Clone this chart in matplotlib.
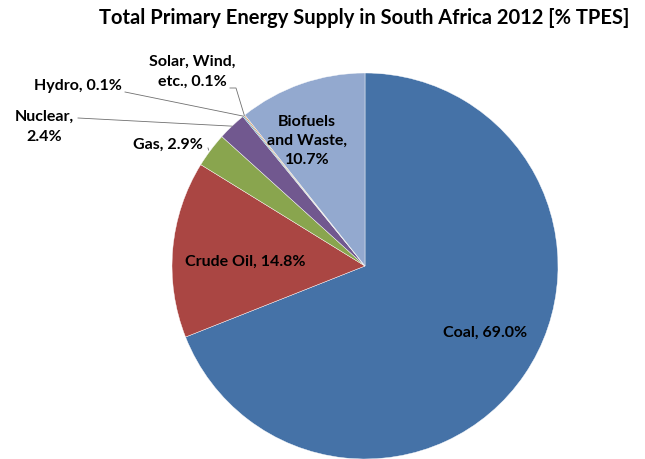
import numpy as np
import matplotlib
matplotlib.use('Agg')
import matplotlib.pyplot as plt

fuentes = ['Coal', 'Crude Oil', 'Gas', 'Nuclear', 'Hydro', 'Solar, Wind, etc.', 'Biofuels and Waste']
valores = [69.0, 14.8, 2.9, 2.4, 0.1, 0.1, 10.7]
etiquetas = ['Coal, 69.0%', 'Crude Oil, 14.8%', 'Gas, 2.9%', 'Nuclear,\n2.4%', 'Hydro, 0.1%',
             'Solar, Wind,\netc., 0.1%', 'Biofuels\nand Waste,\n10.7%']
colores = ['#4572A7', '#AA4643', '#89A54E', '#71588F', '#4198AF', '#DB843D', '#93A9CF']

W, H = 645, 459
plt.rcParams['font.family'] = ['Lato', 'DejaVu Sans']

fig = plt.figure(figsize=(W / 100, H / 100), dpi=100)
ax = fig.add_axes([0, 0, 1, 1])

cx, cy, r = 365, 266, 193
wedges, _ = ax.pie(valores, colors=colores, startangle=90, counterclock=False,
                   center=(cx, H - cy), radius=r,
                   wedgeprops=dict(edgecolor='white', linewidth=0.3))
ax.set_xlim(0, W)
ax.set_ylim(0, H)
ax.set_aspect('equal')
ax.axis('off')

def borde(i, frac=0.5, rr=1.0):
    w = wedges[i]
    ang = np.deg2rad(w.theta1 + (w.theta2 - w.theta1) * frac)
    return (cx + r * rr * np.cos(ang), H - cy + r * rr * np.sin(ang))

estilo = dict(fontsize=11.5, fontweight='bold', ha='center', va='center', color='black')
# etiquetas dentro
ax.text(485, H - 333, etiquetas[0], **estilo)
ax.text(245, H - 262, etiquetas[1], **estilo)
ax.text(307, H - 141, etiquetas[6], linespacing=1.5, **estilo)

# etiquetas fuera con linea guia
ax.text(168, H - 145, etiquetas[2], **estilo)
ax.plot([208, borde(2)[0] - 2], [H - 148, borde(2)[1]], color='#707070', lw=0.6)
ax.text(44, H - 127, etiquetas[3], linespacing=1.5, **estilo)
ax.plot([78, borde(3)[0]], [H - 118, borde(3)[1]], color='#707070', lw=0.6)
ax.text(78, H - 86, etiquetas[4], **estilo)
ax.plot([125, borde(4)[0]], [H - 92, borde(4)[1]], color='#707070', lw=0.6)
ax.text(192, H - 72, etiquetas[5], linespacing=1.5, **estilo)
ax.plot([230, 236, borde(5)[0]], [H - 88, H - 88, borde(5)[1]], color='#707070', lw=0.6)

ax.text(364, H - 18, 'Total Primary Energy Supply in South Africa 2012 [% TPES]',
        fontsize=14.5, fontweight='bold', ha='center', va='center')

fig.savefig('out.png', dpi=100)
